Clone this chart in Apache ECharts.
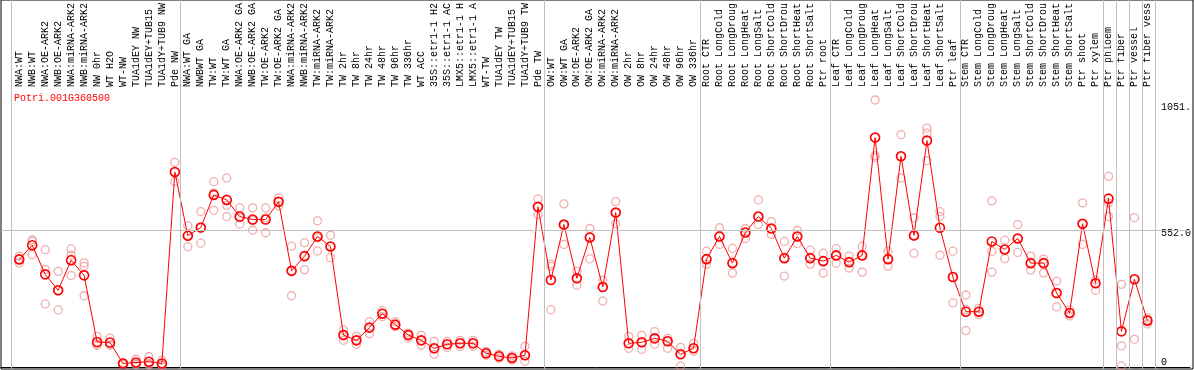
<!DOCTYPE html>
<html>
<head>
<meta charset="utf-8">
<script src="https://cdn.jsdelivr.net/npm/echarts@6/dist/echarts.min.js"></script>
<style>
html,body{margin:0;padding:0;background:#fff;}
#chart{width:1194px;height:370px;}
</style>
</head>
<body>
<div id="chart"></div>
<script>
const title = 'Potri.001G360500';
const categories = [
  'NWA:WT','NWB:WT','NWA:OE-ARK2','NWB:OE-ARK2','NWA:miRNA-ARK2','NWB:miRNA-ARK2','NW 0hr','WT H2O','WT-NW','TUA1dEY NW','TUA1dEY+TUB15','TUA1dY+TUB9 NW','Pde NW',
  'NWA:WT GA','NWBWT GA','TW:WT','TW:WT GA','NWA:OE-ARK2 GA','NWB:OE-ARK2 GA','TW:OE-ARK2','TW:OE-ARK2 GA','NWA:miRNA-ARK2','NWB:miRNA-ARK2','TW:miRNA-ARK2','TW:miRNA-ARK2','TW 2hr','TW 8hr','TW 24hr','TW 48hr','TW 96hr','TW 336hr','WT ACC','35S::etr1-1 H2','35S::etr1-1 AC','LMX5::etr1-1 H','LMX5::etr1-1 A','WT-TW','TUA1dEY TW','TUA1dEY+TUB15','TUA1dY+TUB9 TW','Pde TW',
  'OW:WT','OW:WT GA','OW:OE-ARK2','OW:OE-ARK2 GA','OW:miRNA-ARK2','OW:miRNA-ARK2','OW 2hr','OW 8hr','OW 24hr','OW 48hr','OW 96hr','OW 336hr',
  'Root CTR','Root LongCold','Root LongDroug','Root LongHeat','Root LongSalt','Root ShortCold','Root ShortDrou','Root ShortHeat','Root ShortSalt','Ptr root',
  'Leaf CTR','Leaf LongCold','Leaf LongDroug','Leaf LongHeat','Leaf LongSalt','Leaf ShortCold','Leaf ShortDrou','Leaf ShortHeat','Leaf ShortSalt','Ptr leaf',
  'Stem CTR','Stem LongCold','Stem LongDroug','Stem LongHeat','Stem LongSalt','Stem ShortCold','Stem ShortDrou','Stem ShortHeat','Stem ShortSalt','Ptr shoot','Ptr xylem',
  'Ptr phloem','Ptr fiber','Ptr vessel','Ptr fiber vess'
];
const groupSizes = [13, 28, 12, 10, 10, 11, 1, 1, 1, 1];
const means = [
  433,490,373,309,430,369,101,99,15,19,22,15,784,
  528,561,692,672,605,593,593,664,387,446,525,485,129,108,159,215,171,129,108,76,92,96,96,56,44,37,48,644,
  350,573,357,521,322,621,96,100,116,104,52,76,
  434,525,418,541,605,557,438,525,438,426,
  449,422,449,922,434,847,529,910,560,362,
  223,223,505,473,517,418,418,298,218,576,337,
  677,144,353,187
];
const rep1 = [
  446,512,472,385,475,419,124,117,18,32,42,28,823,
  568,625,745,760,640,640,640,680,486,500,588,530,149,124,183,227,183,137,128,104,104,108,108,64,52,45,84,676,
  414,656,385,557,350,665,124,128,143,116,80,96,
  466,560,477,557,672,585,505,549,470,458,
  477,446,485,1073,466,934,600,960,625,466,
  290,235,668,510,573,446,434,346,230,660,350,
  766,333,601,198
];
const rep2 = [
  419,505,393,230,450,405,92,92,14,15,15,10,746,
  484,560,700,650,600,590,600,665,387,446,520,485,130,108,160,215,170,130,108,76,92,96,96,56,44,37,48,644,
  405,570,357,521,322,621,96,100,116,104,52,76,
  434,525,418,541,605,557,438,525,438,426,
  449,422,449,850,434,847,529,940,605,362,
  232,223,465,473,517,418,418,298,218,576,337,
  660,86,353,190
];
const rep3 = [
  433,452,254,310,368,287,88,88,13,11,10,8,783,
  530,498,630,605,575,550,540,648,287,392,467,440,108,92,135,203,163,117,88,52,80,84,84,48,36,29,24,612,
  231,493,329,435,266,577,76,72,92,76,4,64,
  414,493,378,517,573,533,366,497,414,378,
  418,398,382,843,406,760,458,830,450,258,
  147,211,382,436,461,390,378,242,206,493,309,
  605,5,112,174
];
const gridValue = 552;
const yTickValues = [0, 552, 1051];
const yTickLabels = ['0', '552.0', '1051.'];

const font = 'Liberation Mono, DejaVu Sans Mono, monospace';
const xMin = -1.4077, xMax = 90.285;
const sepOffset = 0.36;
const yMin = -7.15, yMax = 1117.2;

const sepPos = [-1 + sepOffset];
let acc = -1;
groupSizes.forEach(n => { acc += n; sepPos.push(acc + sepOffset); });

const meanData = means.map((v, i) => [i, v]);
const repData = [];
[rep1, rep2, rep3].forEach(r => r.forEach((v, i) => { if (v != null) repData.push([i, v]); }));

const chart = echarts.init(document.getElementById('chart'), null, {renderer: 'canvas'});
chart.setOption({
  animation: false,
  backgroundColor: '#fff',
  title: {
    text: title, left: 9, top: 88,
    textStyle: {color: '#ff0000', fontFamily: font, fontSize: 10, fontWeight: 'normal'}
  },
  grid: [
    {left: 1, right: 1, top: 0, bottom: 1, show: true, borderColor: '#000', borderWidth: 1, backgroundColor: 'transparent'},
    {left: 1, right: 1, top: 86, bottom: 1}
  ],
  xAxis: [
    {gridIndex: 0, type: 'value', min: xMin, max: xMax, show: false},
    {gridIndex: 1, type: 'value', min: xMin, max: xMax, position: 'top',
     axisLine: {show: true, lineStyle: {color: '#000', width: 1}},
     axisTick: {show: false}, splitLine: {show: false},
     axisLabel: {
       rotate: 90, margin: 2, color: '#000', fontFamily: font, fontSize: 10,
       customValues: categories.map((c, i) => i),
       formatter: v => categories[Math.round(v)] || ''
     }}
  ],
  yAxis: [
    {gridIndex: 0, type: 'value', min: 0, max: 1, show: false},
    {gridIndex: 1, type: 'value', min: yMin, max: yMax, position: 'right',
     axisLine: {show: false}, axisTick: {show: false}, splitLine: {show: false},
     axisLabel: {
       inside: true, align: 'left', margin: 29, color: '#000', fontFamily: font, fontSize: 10,
       customValues: yTickValues,
       formatter: v => {
         const k = yTickValues.indexOf(v);
         const key = k === 0 ? 'lo' : (k === 1 ? 'mid' : 'hi');
         return '{' + key + '|' + yTickLabels[k] + '}';
       },
       rich: {
         lo: {padding: [0, 0, 10, 0], fontFamily: font, fontSize: 10, color: '#000'},
         mid: {padding: [8, 0, 0, 0], fontFamily: font, fontSize: 10, color: '#000'},
         hi: {padding: [4, 0, 0, 0], fontFamily: font, fontSize: 10, color: '#000'}
       }
     }}
  ],
  series: [
    {
      type: 'line', xAxisIndex: 0, yAxisIndex: 0, data: [], z: 1, silent: true,
      markLine: {
        silent: true, symbol: 'none', animation: false,
        label: {show: false},
        lineStyle: {color: '#c0c0c0', width: 1, type: 'solid'},
        data: sepPos.map(x => ({xAxis: x}))
      }
    },
    {
      type: 'line', xAxisIndex: 1, yAxisIndex: 1, data: [], z: 1, silent: true,
      markLine: {
        silent: true, symbol: 'none', animation: false,
        label: {show: false},
        lineStyle: {color: '#c0c0c0', width: 1, type: 'solid'},
        data: [{yAxis: gridValue}]
      }
    },
    {
      type: 'scatter', xAxisIndex: 1, yAxisIndex: 1, data: repData, z: 3, clip: false,
      symbol: 'circle', symbolSize: 8,
      itemStyle: {color: 'rgba(0,0,0,0)', borderColor: '#ee9999', borderWidth: 1.3}
    },
    {
      type: 'line', xAxisIndex: 1, yAxisIndex: 1, data: meanData, z: 4, clip: false,
      symbol: 'circle', symbolSize: 9, showSymbol: true, color: '#ff0000',
      lineStyle: {color: '#ff0000', width: 1},
      itemStyle: {color: 'rgba(0,0,0,0)', borderColor: '#ff0000', borderWidth: 1.6}
    }
  ]
});
</script>
</body>
</html>
